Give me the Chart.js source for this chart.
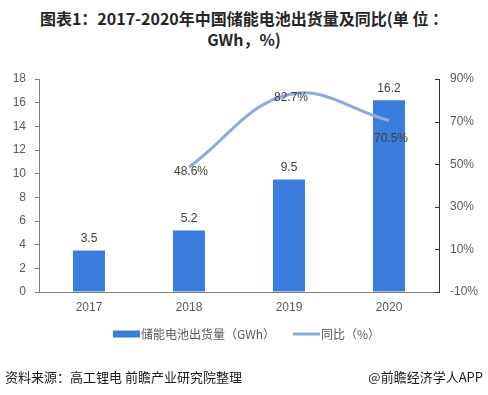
<!DOCTYPE html>
<html>
<head>
<meta charset="utf-8">
<script src="https://cdn.jsdelivr.net/npm/chart.js@4/dist/chart.umd.min.js"></script>
<style>
  body { margin: 0; background: #fff; }
  #wrap { position: relative; width: 488px; height: 395px; font-family: "Noto Sans CJK SC", "Noto Sans", sans-serif; }
  #title { position: absolute; top: 8px; left: 0; width: 488px; text-align: center; font-weight: bold; font-size: 16px; line-height: 21px; color: #262626; }
  #src { position: absolute; top: 367px; left: 5px; font-size: 13px; color: #1a1a1a; }
  #app { position: absolute; top: 367px; right: 5px; font-size: 13px; color: #1a1a1a; }
  canvas { position: absolute; top: 0; left: 0; }
</style>
</head>
<body>
<div id="wrap">
  <div id="title">图表1：2017-2020年中国储能电池出货量及同比(单&nbsp;位&nbsp;：<br>GWh，%)</div>
  <canvas id="chart" width="488" height="395"></canvas>
  <div id="src">资料来源：高工锂电 前瞻产业研究院整理</div>
  <div id="app">@前瞻经济学人APP</div>
</div>
<script>
// Data
const years = ["2017", "2018", "2019", "2020"];
const shipments = [3.5, 5.2, 9.5, 16.2];
const growth = [null, 48.6, 82.7, 70.5];
const shipmentLabel = "储能电池出货量（GWh）";
const growthLabel = "同比（%）";

const BAR_COLOR = "#3b7ddd";
const LINE_COLOR = "#8faadc";
const TEXT_COLOR = "#404040";
const AXIS_COLOR = "#7f7f7f";
const TICK_FONT = { size: 12, family: "'Liberation Sans', sans-serif" };

// value labels above bars and next to the line points
const valueLabels = {
  id: "valueLabels",
  afterDatasetsDraw(chart) {
    const ctx = chart.ctx;
    ctx.save();
    ctx.font = "12px 'Liberation Sans', sans-serif";
    ctx.fillStyle = TEXT_COLOR;
    ctx.textAlign = "center";
    ctx.textBaseline = "middle";
    chart.getDatasetMeta(0).data.forEach((bar, i) => {
      ctx.fillText(shipments[i].toFixed(1), bar.x, bar.y - 12);
    });
    const offs = [0, 5, 3, 18];
    chart.getDatasetMeta(1).data.forEach((pt, i) => {
      if (growth[i] == null) return;
      ctx.fillText(growth[i].toFixed(1) + "%", pt.x + 2, pt.y + offs[i]);
    });
    ctx.restore();
  }
};

// inward tick marks on the right axis + hand-made legend
const extras = {
  id: "extras",
  afterDraw(chart) {
    const ctx = chart.ctx;
    const y1 = chart.scales.y1;
    ctx.save();
    ctx.strokeStyle = "#333";
    ctx.lineWidth = 1;
    y1.ticks.forEach((t, i) => {
      const y = Math.round(y1.getPixelForTick(i)) + 0.5;
      ctx.beginPath();
      ctx.moveTo(y1.left - 4, y);
      ctx.lineTo(y1.left, y);
      ctx.stroke();
    });

    // legend
    const ly = 334;
    ctx.fillStyle = BAR_COLOR;
    ctx.fillRect(113, ly - 3.5, 27, 7);
    ctx.strokeStyle = LINE_COLOR;
    ctx.lineWidth = 3;
    ctx.beginPath();
    ctx.moveTo(293, ly);
    ctx.lineTo(320, ly);
    ctx.stroke();
    ctx.font = "12px 'Noto Sans CJK SC', sans-serif";
    ctx.fillStyle = "#595959";
    ctx.textAlign = "left";
    ctx.textBaseline = "middle";
    ctx.fillText(shipmentLabel, 141, ly);
    ctx.fillText(growthLabel, 321, ly);
    ctx.restore();
  }
};

new Chart("chart", {
  data: {
    labels: years,
    datasets: [{
      type: "bar",
      label: shipmentLabel,
      data: shipments,
      backgroundColor: BAR_COLOR,
      yAxisID: "y",
      barPercentage: 0.64,
      categoryPercentage: 0.5,
      order: 2
    }, {
      type: "line",
      label: growthLabel,
      data: growth,
      borderColor: LINE_COLOR,
      borderWidth: 3,
      pointRadius: 0,
      tension: 0.4,
      yAxisID: "y1",
      order: 1
    }]
  },
  options: {
    responsive: false,
    animation: false,
    layout: { padding: { top: 79, bottom: 78, left: 0, right: 0 } },
    plugins: {
      legend: { display: false },
      tooltip: { enabled: false }
    },
    scales: {
      x: {
        grid: { display: false, drawTicks: false },
        border: { display: true, color: AXIS_COLOR },
        ticks: { color: "#595959", font: TICK_FONT, padding: 8 },
        afterFit(s) { s.height = 25; }
      },
      y: {
        position: "left",
        min: 0, max: 18,
        ticks: { stepSize: 2, color: "#595959", font: TICK_FONT, padding: 9 },
        grid: { drawOnChartArea: false, drawTicks: true, tickLength: 4, color: AXIS_COLOR },
        border: { display: true, color: AXIS_COLOR },
        afterFit(s) { s.width = 39; }
      },
      y1: {
        position: "right",
        min: -10, max: 90,
        ticks: {
          stepSize: 20, color: "#595959", padding: 11, font: TICK_FONT,
          callback: v => v + "%"
        },
        grid: { drawOnChartArea: false, drawTicks: false },
        border: { display: true, color: "#333" },
        afterFit(s) { s.width = 49; }
      }
    }
  },
  plugins: [valueLabels, extras]
});
</script>
</body>
</html>
